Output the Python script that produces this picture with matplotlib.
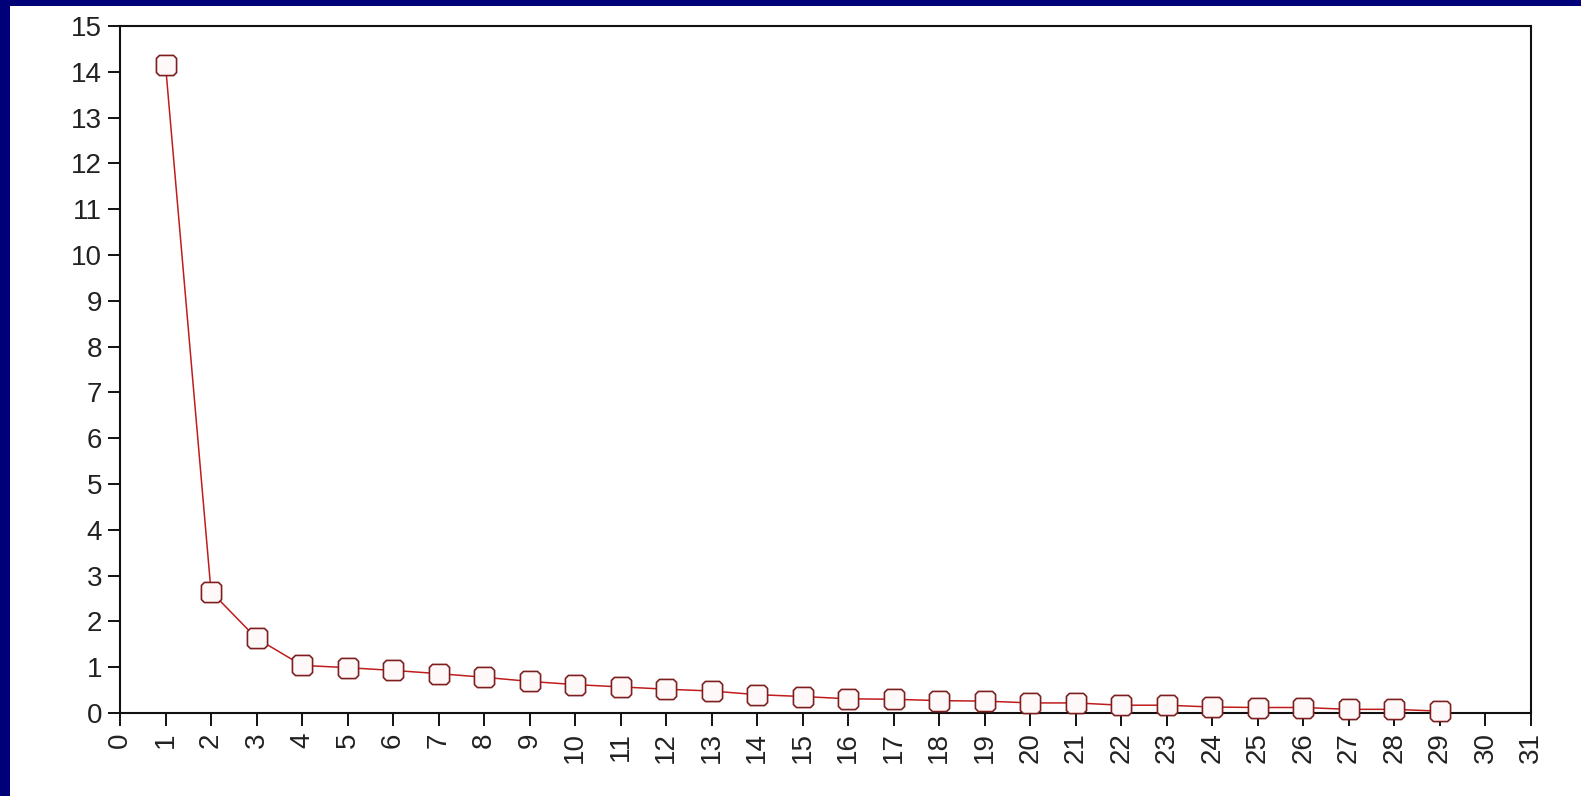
import matplotlib
matplotlib.use("Agg")
import matplotlib.pyplot as plt
from matplotlib.path import Path
from matplotlib.patches import Rectangle

# Eigenvalue per component
components = list(range(1, 30))
eigenvalues = [14.15, 2.65, 1.63, 1.04, 0.99, 0.93, 0.86, 0.78, 0.69, 0.62,
               0.57, 0.52, 0.48, 0.40, 0.36, 0.31, 0.30, 0.27, 0.26, 0.22,
               0.22, 0.17, 0.17, 0.13, 0.12, 0.12, 0.08, 0.08, 0.04]
x_ticks = list(range(0, 32))
y_ticks = list(range(0, 16))

plt.rcParams['font.family'] = ['Liberation Sans', 'DejaVu Sans']

fig = plt.figure(figsize=(15.81, 7.96), dpi=100)
fig.patch.set_facecolor('#000078')
# white panel inside the navy frame
panel = Rectangle((10 / 1581, 0), 1 - 10 / 1581, 1 - 6 / 796,
                  transform=fig.transFigure, facecolor='white',
                  edgecolor='none', zorder=-5)
fig.add_artist(panel)

ax = fig.add_axes([120 / 1581, 1 - 713 / 796, (1531 - 120) / 1581, (713 - 26) / 796])
ax.set_zorder(1)
ax.set_facecolor('white')

# square marker with chamfered corners
c = 0.3
verts = [(-1 + c, -1), (1 - c, -1), (1, -1 + c), (1, 1 - c), (1 - c, 1),
         (-1 + c, 1), (-1, 1 - c), (-1, -1 + c), (-1 + c, -1)]
chamfer_sq = Path(verts, [Path.MOVETO] + [Path.LINETO] * 7 + [Path.CLOSEPOLY])

ax.plot(components, eigenvalues, color='#c01c1c', linewidth=1.1,
        marker=chamfer_sq, markersize=14.5, markerfacecolor='#fff8f8',
        markeredgecolor='#7e1f1f', markeredgewidth=1.2, clip_on=False, zorder=3)

ax.set_xlim(0, 31)
ax.set_ylim(0, 15)
ax.set_xticks(x_ticks)
ax.set_yticks(y_ticks)
ax.set_xticklabels([str(t) for t in x_ticks], rotation=90)
ax.tick_params(axis='both', direction='out', length=9, width=1.4,
               labelsize=20, labelcolor='#222222', color='#111111')
ax.tick_params(axis='x', pad=5)
ax.tick_params(axis='y', pad=4)
for s in ax.spines.values():
    s.set_linewidth(1.5)
    s.set_color('#111111')

fig.savefig('out.png', dpi=100, facecolor=fig.get_facecolor())
